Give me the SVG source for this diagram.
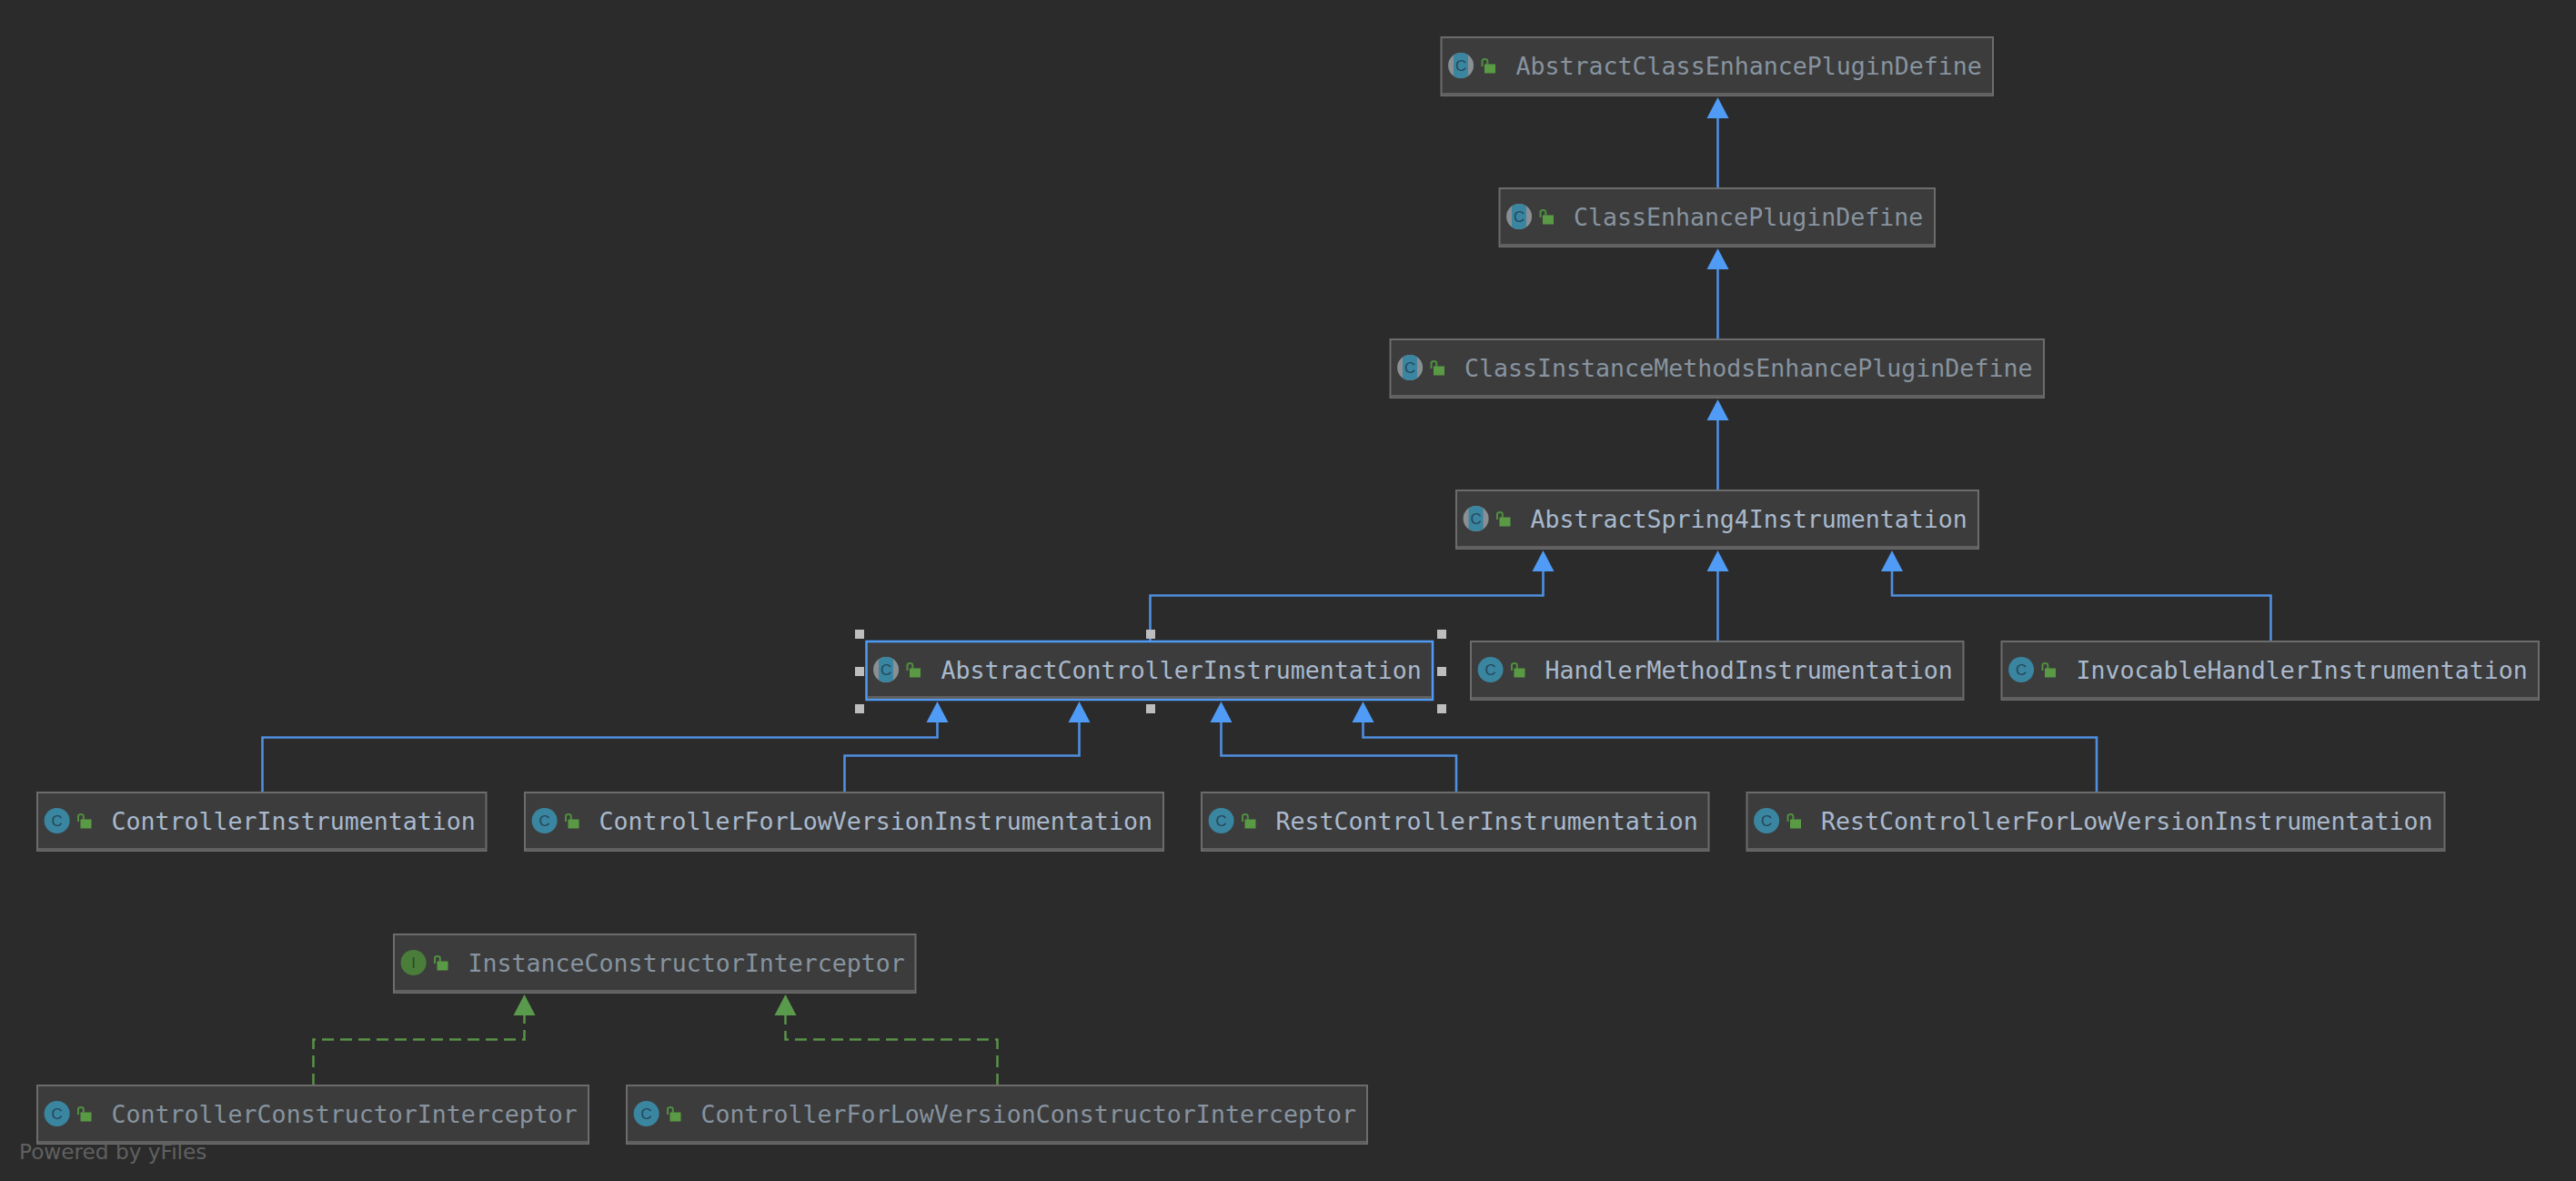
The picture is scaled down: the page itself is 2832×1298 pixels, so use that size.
<svg xmlns="http://www.w3.org/2000/svg" width="2832" height="1298" viewBox="0 0 2832 1298">
<style>
.bg{fill:#2b2b2b}
.box{fill:#3c3c3c;stroke:#6c6c6c;stroke-width:2}
.sel{fill:#3c3c3c;stroke:#4f9bf5;stroke-width:2.5}
.stripe{stroke:#606060;stroke-width:3}
.t{font-family:"DejaVu Sans Mono","Liberation Mono",monospace;font-size:26.6px}
.dim{fill:#87939f}
.bright{fill:#a9b9cd}
.ic{font-family:"Liberation Sans",Arial,sans-serif;font-size:17px;text-anchor:middle}
.edge{fill:none;stroke:#4f8fe0;stroke-width:2.6}
.impl{fill:none;stroke:#5a9248;stroke-width:2.5;stroke-dasharray:13 7}
.h{fill:#bdbdbd}
.foot{font-family:"DejaVu Sans","Liberation Sans",sans-serif;font-size:23.2px;fill:#606060}
</style>
<defs>
<clipPath id="band"><rect x="-8" y="-14" width="16" height="28"/></clipPath>
<g id="lock"><rect x="47.5" y="29.5" width="12" height="10" fill="#5a9a45"/><path d="M45 32V26Q45 24 48 24Q50.8 24 50.8 26V30" fill="none" stroke="#4f8f3f" stroke-width="2"/></g>
<g id="cCls"><circle r="14" fill="#3a85a0"/></g>
<g id="aCls"><circle r="14" fill="#8a8f94"/><circle r="14" fill="#3a85a0" clip-path="url(#band)"/></g>
<g id="iCls"><circle r="14" fill="#4a7d3a"/></g>
</defs>
<rect class="bg" width="2832" height="1298"/>

<g id="connectors">
<path class="edge" d="M1888.5 207V119" /><path class="edge" d="M1888.5 373V285"/><path class="edge" d="M1888.5 539V451"/>
<path class="edge" d="M1264.5 705V654.5H1696.5V617"/><path class="edge" d="M1888.5 705V617"/><path class="edge" d="M2496.5 705V654.5H2080V617"/>
<path class="edge" d="M288.5 871V810.5H1030.5V782"/><path class="edge" d="M928.5 871V830.5H1186.5V782"/><path class="edge" d="M1601 871V830.5H1342.5V782"/><path class="edge" d="M2305 871V810.5H1498.5V782"/>
<path class="impl" d="M344.5 1193V1142.5H576.5V1105"/><path class="impl" d="M1096.5 1193V1142.5H863.5V1105"/>
<g fill="#4f9bf5">
<path d="M1888.5 107l12 23h-24z"/><path d="M1888.5 273l12 23h-24z"/><path d="M1888.5 439l12 23h-24z"/>
<path d="M1696.5 605l12 23h-24z"/><path d="M1888.5 605l12 23h-24z"/><path d="M2080 605l12 23h-24z"/>
<path d="M1030.5 771l12 23h-24z"/><path d="M1186.5 771l12 23h-24z"/><path d="M1342.5 771l12 23h-24z"/><path d="M1498.5 771l12 23h-24z"/>
</g>
<g fill="#5a9a4c"><path d="M576.5 1093l12 23h-24z"/><path d="M863.5 1093l12 23h-24z"/></g>
</g>

<g id="n1" transform="translate(1584.5 41)"><rect class="box" width="606.5" height="64"/><path class="stripe" d="M1 62.5H605.5"/><use href="#aCls" x="21.6" y="31"/><text class="ic" x="21.6" y="37" fill="#24485a">C</text><use href="#lock"/><text class="t dim" x="82" y="41">AbstractClassEnhancePluginDefine</text></g>
<g id="n2" transform="translate(1648.5 207)"><rect class="box" width="478.5" height="64"/><path class="stripe" d="M1 62.5H477.5"/><use href="#aCls" x="21.6" y="31"/><text class="ic" x="21.6" y="37" fill="#24485a">C</text><use href="#lock"/><text class="t dim" x="81.5" y="41">ClassEnhancePluginDefine</text></g>
<g id="n3" transform="translate(1528.5 373)"><rect class="box" width="718.5" height="64"/><path class="stripe" d="M1 62.5H717.5"/><use href="#aCls" x="21.6" y="31"/><text class="ic" x="21.6" y="37" fill="#24485a">C</text><use href="#lock"/><text class="t dim" x="81.5" y="41">ClassInstanceMethodsEnhancePluginDefine</text></g>
<g id="n4" transform="translate(1601 539)"><rect class="box" width="574" height="64"/><path class="stripe" d="M1 62.5H573"/><use href="#aCls" x="21.6" y="31"/><text class="ic" x="21.6" y="37" fill="#24485a">C</text><use href="#lock"/><text class="t bright" x="81.5" y="41">AbstractSpring4Instrumentation</text></g>

<g id="n5" transform="translate(952.5 705)"><rect class="sel" width="622.5" height="64"/><path class="stripe" d="M1.5 61.5H621"/><use href="#aCls" x="21.6" y="31"/><text class="ic" x="21.6" y="37" fill="#24485a">C</text><use href="#lock"/><text class="t bright" x="82" y="41">AbstractControllerInstrumentation</text>
<g class="h"><rect x="-12.5" y="-13" width="10" height="10"/><rect x="307.5" y="-13" width="10" height="10"/><rect x="627.5" y="-13" width="10" height="10"/><rect x="-12.5" y="28" width="10" height="10"/><rect x="627.5" y="28" width="10" height="10"/><rect x="-12.5" y="69" width="10" height="10"/><rect x="307.5" y="69" width="10" height="10"/><rect x="627.5" y="69" width="10" height="10"/></g></g>
<g id="n6" transform="translate(1617 705)"><rect class="box" width="541.5" height="64"/><path class="stripe" d="M1 62.5H540.5"/><use href="#cCls" x="21.6" y="31"/><text class="ic" x="21.6" y="37" fill="#24485a">C</text><use href="#lock"/><text class="t bright" x="81.5" y="41">HandlerMethodInstrumentation</text></g>
<g id="n7" transform="translate(2200.5 705)"><rect class="box" width="590.5" height="64"/><path class="stripe" d="M1 62.5H589.5"/><use href="#cCls" x="21.6" y="31"/><text class="ic" x="21.6" y="37" fill="#24485a">C</text><use href="#lock"/><text class="t bright" x="82" y="41">InvocableHandlerInstrumentation</text></g>

<g id="n8" transform="translate(41 871)"><rect class="box" width="493.5" height="64"/><path class="stripe" d="M1 62.5H492.5"/><use href="#cCls" x="21.6" y="31"/><text class="ic" x="21.6" y="37" fill="#24485a">C</text><use href="#lock"/><text class="t bright" x="81.5" y="41">ControllerInstrumentation</text></g>
<g id="n9" transform="translate(577 871)"><rect class="box" width="702" height="64"/><path class="stripe" d="M1 62.5H701"/><use href="#cCls" x="21.6" y="31"/><text class="ic" x="21.6" y="37" fill="#24485a">C</text><use href="#lock"/><text class="t bright" x="81.5" y="41">ControllerForLowVersionInstrumentation</text></g>
<g id="n10" transform="translate(1321 871)"><rect class="box" width="557.5" height="64"/><path class="stripe" d="M1 62.5H556.5"/><use href="#cCls" x="21.6" y="31"/><text class="ic" x="21.6" y="37" fill="#24485a">C</text><use href="#lock"/><text class="t bright" x="81.5" y="41">RestControllerInstrumentation</text></g>
<g id="n11" transform="translate(1920.5 871)"><rect class="box" width="767" height="64"/><path class="stripe" d="M1 62.5H766"/><use href="#cCls" x="21.6" y="31"/><text class="ic" x="21.6" y="37" fill="#24485a">C</text><use href="#lock"/><text class="t bright" x="81.5" y="41">RestControllerForLowVersionInstrumentation</text></g>

<g id="n12" transform="translate(433 1027)"><rect class="box" width="573.5" height="64"/><path class="stripe" d="M1 62.5H572.5"/><use href="#iCls" x="21.6" y="31"/><text class="ic" x="21.6" y="37" fill="#2b4a22">I</text><use href="#lock"/><text class="t dim" x="81.5" y="41">InstanceConstructorInterceptor</text></g>
<g id="n13" transform="translate(41 1193)"><rect class="box" width="606" height="64"/><path class="stripe" d="M1 62.5H605"/><use href="#cCls" x="21.6" y="31"/><text class="ic" x="21.6" y="37" fill="#24485a">C</text><use href="#lock"/><text class="t dim" x="81.5" y="41">ControllerConstructorInterceptor</text></g>
<g id="n14" transform="translate(689 1193)"><rect class="box" width="814" height="64"/><path class="stripe" d="M1 62.5H813"/><use href="#cCls" x="21.6" y="31"/><text class="ic" x="21.6" y="37" fill="#24485a">C</text><use href="#lock"/><text class="t dim" x="81.5" y="41">ControllerForLowVersionConstructorInterceptor</text></g>

<text class="foot" x="21" y="1273.5">Powered by yFiles</text>
</svg>
